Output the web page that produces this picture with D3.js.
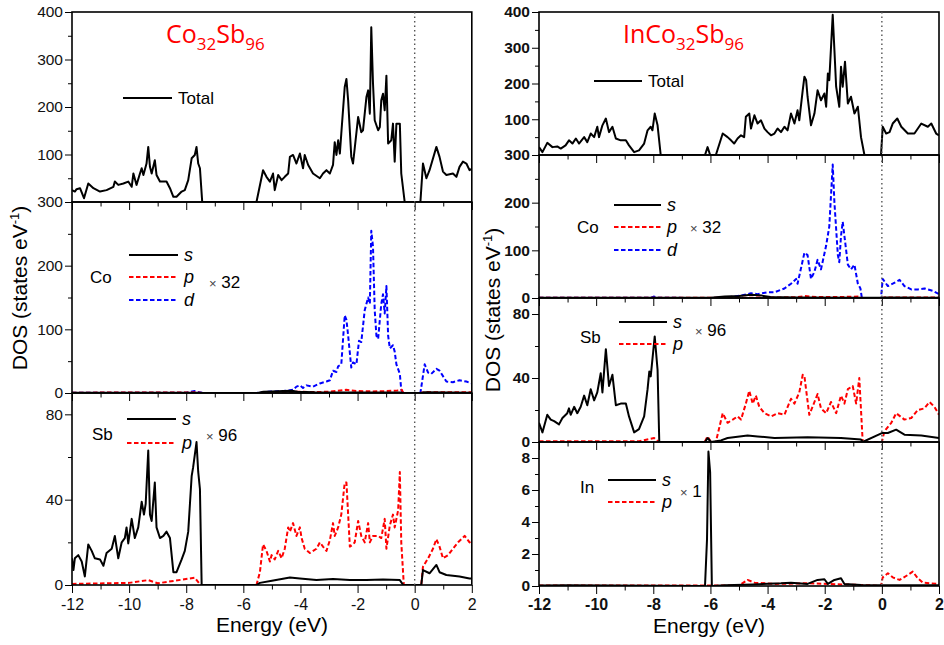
<!DOCTYPE html>
<html><head><meta charset="utf-8">
<script src="https://cdn.jsdelivr.net/npm/d3@7"></script>
<style>body{margin:0;background:#fff}svg{display:block}</style>
</head><body>
<svg id="c" width="944" height="645"></svg>
<script>
// ---------- tick values ----------
const xTicks = [-12, -10, -8, -6, -4, -2, 0, 2];
const xMinor = [-11, -9, -7, -5, -3, -1, 1];
const totalTicks = [100, 200, 300, 400];
const totalMinor = [50, 150, 250, 350];
const coTicks = [0, 100, 200, 300];
const coMinor = [50, 150, 250];
const sbTicks = [0, 40, 80];
const sbMinor = [20, 60];
const inTicks = [0, 2, 4, 6, 8];
const inMinor = [1, 3, 5, 7];

// ---------- data: [energy (eV), DOS] ----------
const leftTotal = [[-12.00,25],[-11.90,22],[-11.84,27],[-11.72,29],[-11.58,8],[-11.43,39],[-11.25,29],[-11.02,22],[-10.79,25],[-10.55,32],[-10.50,43],[-10.38,36],[-10.20,39],[-10.03,43],[-9.91,32],[-9.85,60],[-9.74,36],[-9.62,60],[-9.56,71],[-9.50,57],[-9.39,81],[-9.33,116],[-9.27,74],[-9.21,60],[-9.10,88],[-9.04,57],[-8.92,43],[-8.69,43],[-8.57,29],[-8.45,11],[-8.34,11],[-8.16,22],[-8.05,25],[-7.93,46],[-7.81,92],[-7.70,99],[-7.64,116],[-7.58,81],[-7.52,71],[-7.44,0],[-5.54,0],[-5.31,67],[-5.19,53],[-5.07,43],[-4.96,60],[-4.90,25],[-4.78,57],[-4.66,46],[-4.55,53],[-4.43,60],[-4.37,95],[-4.26,99],[-4.14,81],[-4.02,102],[-3.91,71],[-3.85,99],[-3.73,78],[-3.56,60],[-3.32,50],[-3.21,60],[-3.09,67],[-2.97,60],[-2.86,78],[-2.80,126],[-2.74,99],[-2.68,130],[-2.62,102],[-2.57,144],[-2.45,242],[-2.39,259],[-2.33,214],[-2.22,95],[-2.16,81],[-2.10,113],[-1.98,179],[-1.87,147],[-1.81,151],[-1.69,221],[-1.63,235],[-1.57,186],[-1.52,368],[-1.46,250],[-1.40,172],[-1.28,151],[-1.22,158],[-1.17,214],[-1.11,228],[-1.05,193],[-0.99,266],[-0.93,123],[-0.82,130],[-0.76,165],[-0.70,85],[-0.64,165],[-0.52,165],[-0.47,60],[-0.35,0],[0.20,0],[0.29,81],[0.41,50],[0.52,67],[0.76,116],[0.87,95],[0.99,64],[1.11,57],[1.34,60],[1.46,53],[1.57,74],[1.69,85],[1.81,81],[1.92,67],[2.00,70]];
const leftCoS = [[-12,0.3],[-7.6,0.5],[-7.4,0],[-5.5,0],[-5.3,2],[-5.0,2.5],[-4.6,3],[-4.3,3.5],[-4.1,2],[-3.5,1],[-2,0.8],[-0.5,0.8],[-0.4,0],[0.2,0],[0.35,1],[2,0.5]];
const leftCoP = [[-12,0.5],[-7.6,1],[-7.4,0],[-5.5,0],[-5,1],[-4.0,2],[-3.5,1.5],[-3.0,2],[-2.4,5],[-2.0,3],[-1.5,2.5],[-1.0,3],[-0.6,4],[-0.45,5],[-0.4,0],[0.2,0],[0.35,1.5],[1,1],[2,1]];
const leftCoD = [[-12,0.5],[-8,0.5],[-7.7,3],[-7.55,1],[-7.4,0],[-5.54,0],[-5.19,2],[-4.6,3],[-4.26,5],[-4.14,10],[-4.02,12],[-3.91,8],[-3.79,12],[-3.56,10],[-3.32,15],[-3.09,18],[-2.97,20],[-2.86,35],[-2.74,33],[-2.68,42],[-2.57,45],[-2.45,122],[-2.39,115],[-2.33,90],[-2.22,40],[-2.16,48],[-2.04,45],[-1.95,82],[-1.87,80],[-1.75,130],[-1.63,150],[-1.57,140],[-1.52,255],[-1.46,230],[-1.40,130],[-1.34,90],[-1.28,85],[-1.17,140],[-1.11,155],[-1.05,125],[-0.99,168],[-0.93,90],[-0.87,70],[-0.76,75],[-0.70,65],[-0.64,45],[-0.52,30],[-0.47,5],[-0.40,0],[0.20,0],[0.35,45],[0.47,32],[0.58,30],[0.76,38],[0.87,35],[1.11,18],[1.34,17],[1.57,20],[1.81,18],[2.0,15]];
const leftSbS = [[-12.00,12.5],[-11.95,7],[-11.90,12.5],[-11.78,14],[-11.66,11],[-11.55,4],[-11.43,19],[-11.31,16],[-11.20,12.5],[-11.02,12],[-10.90,9],[-10.79,15],[-10.61,17],[-10.50,23],[-10.38,12.5],[-10.26,20],[-10.15,22],[-10.09,27],[-10.03,19.5],[-9.91,31],[-9.80,22],[-9.68,27],[-9.56,39],[-9.48,33],[-9.42,38],[-9.33,63],[-9.27,33],[-9.21,30],[-9.10,48],[-9.04,27],[-8.92,22],[-8.80,23],[-8.69,25],[-8.57,22],[-8.45,6],[-8.34,6],[-8.16,12],[-8.05,16],[-7.93,25],[-7.81,51],[-7.76,55],[-7.70,61],[-7.64,67],[-7.58,53],[-7.52,45],[-7.46,0],[-5.54,0],[-5.42,1],[-5.0,2],[-4.37,3.5],[-4.02,3],[-3.44,2.3],[-2.86,2.8],[-2.27,2.3],[-1.69,2.3],[-1.11,2.6],[-0.52,2.3],[-0.40,0],[0.23,0],[0.29,7],[0.52,5.5],[0.76,9.4],[0.87,6],[1.11,4.7],[1.57,4],[1.92,3],[2.0,3]];
const leftSbP = [[-12,0.5],[-10,1],[-9.33,2.3],[-9.0,0.8],[-7.70,3.4],[-7.5,0],[-5.54,0],[-5.42,6],[-5.31,19],[-5.19,16],[-5.07,11],[-5.01,14],[-4.90,12],[-4.78,16],[-4.66,12.5],[-4.55,17],[-4.43,27],[-4.37,25],[-4.26,29],[-4.14,23],[-4.02,27],[-3.96,22],[-3.85,17],[-3.67,15],[-3.44,17],[-3.32,20],[-3.21,18],[-3.09,16],[-2.97,21],[-2.86,29],[-2.80,23],[-2.68,27],[-2.57,33],[-2.45,48],[-2.39,48],[-2.27,18],[-2.16,19],[-2.10,20],[-1.98,30],[-1.87,23],[-1.75,20],[-1.63,29],[-1.57,20],[-1.46,23],[-1.28,23],[-1.17,22],[-1.05,31],[-0.99,17],[-0.87,28],[-0.76,33],[-0.70,27],[-0.58,35],[-0.52,53],[-0.47,20],[-0.38,0],[0.23,0],[0.29,8.6],[0.47,12.5],[0.64,17],[0.76,21.5],[0.87,18],[0.99,12.5],[1.17,14],[1.34,17],[1.52,20],[1.75,23],[1.92,20],[2.0,21]];

const rightTotal = [[-12.00,22],[-11.88,8],[-11.71,34],[-11.53,22],[-11.36,24],[-11.24,18],[-11.07,27],[-10.95,41],[-10.83,32],[-10.71,46],[-10.60,32],[-10.42,50],[-10.31,36],[-10.19,60],[-10.07,50],[-9.96,79],[-9.90,50],[-9.78,83],[-9.66,102],[-9.55,64],[-9.43,79],[-9.31,46],[-9.14,41],[-8.96,41],[-8.85,27],[-8.67,8],[-8.50,13],[-8.32,32],[-8.20,69],[-8.09,79],[-8.03,69],[-7.95,116],[-7.85,83],[-7.74,0],[-6.19,0],[-6.10,22],[-6.01,0],[-5.81,0],[-5.57,60],[-5.40,50],[-5.28,41],[-5.17,32],[-5.05,46],[-4.93,55],[-4.82,50],[-4.76,107],[-4.64,116],[-4.58,74],[-4.46,111],[-4.35,88],[-4.23,97],[-4.11,74],[-4.00,64],[-3.88,55],[-3.76,60],[-3.65,74],[-3.53,64],[-3.41,79],[-3.30,69],[-3.18,116],[-3.06,88],[-2.95,125],[-2.89,97],[-2.77,181],[-2.71,219],[-2.65,209],[-2.60,163],[-2.48,83],[-2.36,116],[-2.25,181],[-2.13,153],[-2.01,172],[-1.95,135],[-1.89,228],[-1.84,209],[-1.72,392],[-1.66,293],[-1.60,191],[-1.49,135],[-1.43,247],[-1.37,191],[-1.29,261],[-1.19,144],[-1.08,163],[-0.96,116],[-0.84,135],[-0.73,50],[-0.61,0],[-0.03,0],[0.03,79],[0.15,60],[0.27,64],[0.38,88],[0.54,102],[0.68,79],[0.91,60],[1.14,60],[1.38,88],[1.61,79],[1.73,88],[1.90,60],[2.0,55]];
const rightCoS = [[-12,0.3],[-6,0.3],[-5.5,3],[-5.0,4],[-4.58,7],[-4.2,5],[-3.9,2],[-3,1],[-0.7,0.5],[0,0.5],[0.1,1],[2,0.5]];
const rightCoP = [[-12,0.3],[-6,0.3],[-5,0.5],[-4,1],[-3,1.5],[-2.7,4],[-2.3,2],[-1.5,2],[-0.8,3],[-0.7,0],[0,0],[0.1,1],[2,1]];
const rightCoD = [[-12,0.5],[-8.1,0.5],[-7.97,3],[-7.85,0.5],[-6,0],[-5.5,1],[-4.93,5],[-4.58,10],[-4.35,8],[-4.00,12],[-3.76,12],[-3.41,20],[-3.18,30],[-3.00,40],[-2.95,30],[-2.71,95],[-2.60,90],[-2.48,40],[-2.36,55],[-2.25,80],[-2.13,60],[-1.95,110],[-1.84,150],[-1.72,280],[-1.66,200],[-1.54,90],[-1.49,75],[-1.43,130],[-1.37,160],[-1.29,120],[-1.19,70],[-1.08,60],[-0.96,70],[-0.84,30],[-0.75,20],[-0.70,0],[-0.03,0],[0.03,40],[0.21,25],[0.38,30],[0.62,38],[0.79,25],[1.03,18],[1.26,18],[1.49,20],[1.79,15],[2.0,8]];
const rightSbS = [[-12.00,12],[-11.88,6],[-11.71,17],[-11.59,14],[-11.47,13],[-11.30,11],[-11.18,15],[-11.01,18],[-10.95,21],[-10.89,17],[-10.77,22],[-10.66,18],[-10.54,22],[-10.42,29],[-10.31,23],[-10.19,33],[-10.07,26],[-9.96,31],[-9.84,43],[-9.78,31],[-9.66,58],[-9.55,35],[-9.43,42],[-9.31,23],[-9.14,24],[-8.96,24],[-8.85,16],[-8.67,6],[-8.50,8],[-8.32,16],[-8.20,33],[-8.14,44],[-8.09,41],[-7.95,66],[-7.85,45],[-7.79,0],[-6.19,0],[-6.10,2.5],[-5.98,0],[-5.63,1],[-5.40,2.5],[-4.70,4],[-4.35,3.5],[-3.76,2.5],[-2.60,3],[-1.43,2.5],[-0.73,1.5],[-0.67,0],[0.00,5.6],[0.21,5.6],[0.50,7.7],[0.79,4.6],[1.38,4],[2.0,2.5]];
const rightSbP = [[-12,0.5],[-8.5,0.5],[-7.97,2.5],[-7.8,0],[-6.2,0],[-6.10,3.5],[-5.98,0],[-5.81,0],[-5.57,18],[-5.40,12],[-5.22,14],[-5.05,16],[-4.93,14],[-4.76,24],[-4.64,32],[-4.52,24],[-4.41,29],[-4.29,22],[-4.11,18],[-3.88,16],[-3.65,18],[-3.41,17],[-3.18,27],[-3.06,24],[-2.89,31],[-2.77,42],[-2.71,41],[-2.54,17],[-2.36,25],[-2.25,30],[-2.13,21],[-1.95,18],[-1.78,25],[-1.60,18],[-1.43,29],[-1.31,24],[-1.19,33],[-1.02,35],[-0.90,24],[-0.79,40],[-0.67,0],[0.00,0],[0.09,6.7],[0.33,12],[0.50,18],[0.79,14],[1.03,15],[1.26,20],[1.49,21],[1.67,25],[1.84,22],[2.0,17]];
const rightInS = [[-12,0.03],[-11,0.05],[-6.19,0],[-6.12,2.9],[-6.07,8.4],[-6.01,7.1],[-5.95,0],[-5.5,0.05],[-4.5,0.1],[-3.53,0.17],[-3.18,0.21],[-2.60,0.13],[-2.25,0.38],[-2.01,0.42],[-1.89,0.13],[-1.66,0.38],[-1.43,0.48],[-1.31,0.13],[-0.73,0.06],[0,0.05],[2,0.05]];
const rightInP = [[-12,0.03],[-5.0,0.03],[-4.70,0.38],[-4.46,0.21],[-3.76,0.13],[-2.60,0.17],[-0.5,0.05],[-0.03,0],[0.03,0.54],[0.21,0.8],[0.38,0.54],[0.62,0.38],[0.91,0.69],[1.08,0.9],[1.26,0.48],[1.43,0.21],[2.0,0.12]];

// ---------- styles ----------
const SOLID = {color: "#000", dash: null};
const RED = {color: "#ff0000", dash: "4.5,2.5"};
const BLUE = {color: "#0000ff", dash: "4.5,2.5"};

const svg = d3.select("#c");

function drawSide(cfg) {
  const x = d3.scaleLinear().domain([-12, 2]).range([cfg.x0, cfg.x1]);
  const g = svg.append("g");
  const fw = cfg.bold ? "bold" : "normal";
  cfg.panels.forEach((p, i) => {
    const y = d3.scaleLinear().domain(p.domain).range([p.y1, p.y0]);
    const clipId = "clip" + cfg.id + i;
    svg.append("clipPath").attr("id", clipId).append("rect")
      .attr("x", cfg.x0).attr("y", p.y0).attr("width", cfg.x1 - cfg.x0).attr("height", p.y1 - p.y0);
    const pg = g.append("g");
    // series (draw later-listed behind? keep order: dashed first then solid)
    const line = d3.line().x(d => x(d[0])).y(d => y(d[1]));
    p.series.forEach(s => {
      pg.append("path").datum(s.data).attr("clip-path", `url(#${clipId})`)
        .attr("d", line).attr("fill", "none").attr("stroke", s.style.color)
        .attr("stroke-width", 2).attr("stroke-linejoin", "round")
        .attr("stroke-dasharray", s.style.dash);
    });
    // y axis minor
    g.append("g").attr("transform", `translate(${cfg.x0},0)`)
      .call(d3.axisLeft(y).tickValues(p.minor).tickSize(4).tickFormat("").tickSizeOuter(0))
      .call(a => a.select(".domain").remove());
    // y axis major
    g.append("g").attr("transform", `translate(${cfg.x0},0)`)
      .call(d3.axisLeft(y).tickValues(p.ticks).tickSize(7).tickPadding(2).tickSizeOuter(0))
      .call(a => a.select(".domain").remove())
      .call(a => a.selectAll("text").attr("font-size", 15.5).attr("font-weight", fw)
        .attr("font-family", "Liberation Sans, Arial, sans-serif").attr("fill", "#111"));
    // x axis ticks at the panel bottom
    const last = i === cfg.panels.length - 1;
    g.append("g").attr("transform", `translate(0,${p.y1})`)
      .call(d3.axisBottom(x).tickValues(xMinor).tickSize(4.5).tickFormat("").tickSizeOuter(0))
      .call(a => a.select(".domain").remove());
    g.append("g").attr("transform", `translate(0,${p.y1})`)
      .call(d3.axisBottom(x).tickValues(xTicks).tickSize(8).tickPadding(cfg.xPad).tickSizeOuter(0)
        .tickFormat(last ? d3.format("d") : ""))
      .call(a => a.select(".domain").remove())
      .call(a => a.selectAll("text").attr("font-size", 16).attr("font-weight", fw)
        .attr("font-family", "Liberation Sans, Arial, sans-serif").attr("fill", "#111")
        .text(d => last ? String(d).replace("-", "-") : ""));
    // frame
    g.append("rect").attr("x", cfg.x0).attr("y", p.y0).attr("width", cfg.x1 - cfg.x0)
      .attr("height", p.y1 - p.y0).attr("fill", "none").attr("stroke", "#000").attr("stroke-width", 1.6);
    // legend
    const L = p.legend;
    if (L) {
      if (L.elem) g.append("text").attr("x", L.elem[0]).attr("y", L.elem[1]).text(L.elem[2])
        .attr("font-size", 17).attr("font-family", "Liberation Sans, Arial, sans-serif");
      L.items.forEach(it => {
        g.append("line").attr("x1", L.lx0).attr("x2", L.lx1).attr("y1", it.y).attr("y2", it.y)
          .attr("stroke", it.style.color).attr("stroke-width", 2).attr("stroke-dasharray", it.style.dash);
        g.append("text").attr("x", L.lx1 + 6).attr("y", it.y + 5.5).text(it.label)
          .attr("font-size", it.italic ? 18 : 17).attr("font-style", it.italic ? "italic" : "normal")
          .attr("font-family", "Liberation Sans, Arial, sans-serif");
      });
      if (L.mult) {
        const t = g.append("text").attr("x", L.mult[0]).attr("y", L.mult[1])
          .attr("font-family", "Liberation Sans, Arial, sans-serif");
        t.append("tspan").text("\u00d7").attr("font-size", 13).attr("fill", "#444");
        t.append("tspan").text(" " + L.mult[2]).attr("font-size", 17);
      }
    }
  });
  // zero line
  g.append("line").attr("x1", x(0)).attr("x2", x(0)).attr("y1", cfg.panels[0].y0)
    .attr("y2", cfg.panels[cfg.panels.length - 1].y1)
    .attr("stroke", "#555").attr("stroke-width", 1.4).attr("stroke-dasharray", "1.5,3");
  // axis titles
  g.append("text").attr("x", (cfg.x0 + cfg.x1) / 2 + cfg.xTitleDx).attr("y", cfg.xTitleY)
    .attr("text-anchor", "middle").attr("font-size", 21)
    .attr("font-family", "Liberation Sans, Arial, sans-serif").text("Energy (eV)");
  const yt = g.append("text").attr("transform", `translate(${cfg.yTitleX},${cfg.yTitleY}) rotate(-90)`)
    .attr("text-anchor", "middle").attr("font-size", 21)
    .attr("font-family", "Liberation Sans, Arial, sans-serif");
  yt.append("tspan").text("DOS (states eV");
  yt.append("tspan").text("-1").attr("font-size", 13).attr("dy", -8);
  yt.append("tspan").text(")").attr("dy", 8);
  // compound title
  const tt = g.append("text").attr("x", cfg.title.x).attr("y", cfg.title.y).attr("fill", "#ff0000")
    .attr("font-family", "Open Sans, Noto Sans, sans-serif").attr("font-size", 25);
  cfg.title.parts.forEach(pt => {
    tt.append("tspan").text(pt[0]).attr("font-size", pt[1] ? 17 : 25).attr("dy", pt[1] ? 7 : (pt[2] ? -7 : 0));
  });
}

drawSide({
  id: "L", x0: 72, x1: 471.8, bold: false, xPad: 6, xTitleDx: 0, xTitleY: 632,
  yTitleX: 27, yTitleY: 288,
  title: {x: 166, y: 43, parts: [["Co"], ["32", true], ["Sb", false, true], ["96", true]]},
  panels: [
    {y0: 12, y1: 202, domain: [0, 400], ticks: totalTicks, minor: totalMinor,
     series: [{data: leftTotal, style: SOLID}],
     legend: {lx0: 123, lx1: 172, items: [{y: 98, label: "Total", style: SOLID}]}},
    {y0: 202, y1: 393, domain: [0, 300], ticks: coTicks, minor: coMinor,
     series: [{data: leftCoD, style: BLUE}, {data: leftCoP, style: RED}, {data: leftCoS, style: SOLID}],
     legend: {lx0: 129, lx1: 178, elem: [90, 283, "Co"], mult: [209, 288, "32"],
       items: [{y: 255, label: "s", italic: true, style: SOLID}, {y: 277, label: "p", italic: true, style: RED},
               {y: 300, label: "d", italic: true, style: BLUE}]}},
    {y0: 393, y1: 585, domain: [0, 90], ticks: sbTicks, minor: sbMinor,
     series: [{data: leftSbP, style: RED}, {data: leftSbS, style: SOLID}],
     legend: {lx0: 127, lx1: 176, elem: [92, 440, "Sb"], mult: [206, 441, "96"],
       items: [{y: 419, label: "s", italic: true, style: SOLID}, {y: 443, label: "p", italic: true, style: RED}]}}
  ]
});

drawSide({
  id: "R", x0: 539, x1: 939, bold: true, xPad: 5, xTitleDx: -30, xTitleY: 633,
  yTitleX: 500, yTitleY: 310,
  title: {x: 623, y: 43, parts: [["InCo"], ["32", true], ["Sb", false, true], ["96", true]]},
  panels: [
    {y0: 12, y1: 155, domain: [0, 400], ticks: totalTicks, minor: totalMinor,
     series: [{data: rightTotal, style: SOLID}],
     legend: {lx0: 594, lx1: 642, items: [{y: 81, label: "Total", style: SOLID}]}},
    {y0: 155, y1: 298, domain: [0, 300], ticks: coTicks, minor: coMinor,
     series: [{data: rightCoD, style: BLUE}, {data: rightCoP, style: RED}, {data: rightCoS, style: SOLID}],
     legend: {lx0: 614, lx1: 661, elem: [577, 233, "Co"], mult: [690, 233, "32"],
       items: [{y: 205, label: "s", italic: true, style: SOLID}, {y: 227, label: "p", italic: true, style: RED},
               {y: 250, label: "d", italic: true, style: BLUE}]}},
    {y0: 298, y1: 442, domain: [0, 90], ticks: sbTicks, minor: sbMinor,
     series: [{data: rightSbP, style: RED}, {data: rightSbS, style: SOLID}],
     legend: {lx0: 619, lx1: 667, elem: [580, 343, "Sb"], mult: [695, 336, "96"],
       items: [{y: 322, label: "s", italic: true, style: SOLID}, {y: 344, label: "p", italic: true, style: RED}]}},
    {y0: 442, y1: 586, domain: [0, 9], ticks: inTicks, minor: inMinor,
     series: [{data: rightInP, style: RED}, {data: rightInS, style: SOLID}],
     legend: {lx0: 608, lx1: 656, elem: [580, 493, "In"], mult: [680, 497, "1"],
       items: [{y: 480, label: "s", italic: true, style: SOLID}, {y: 502, label: "p", italic: true, style: RED}]}}
  ]
});
</script>
</body></html>
